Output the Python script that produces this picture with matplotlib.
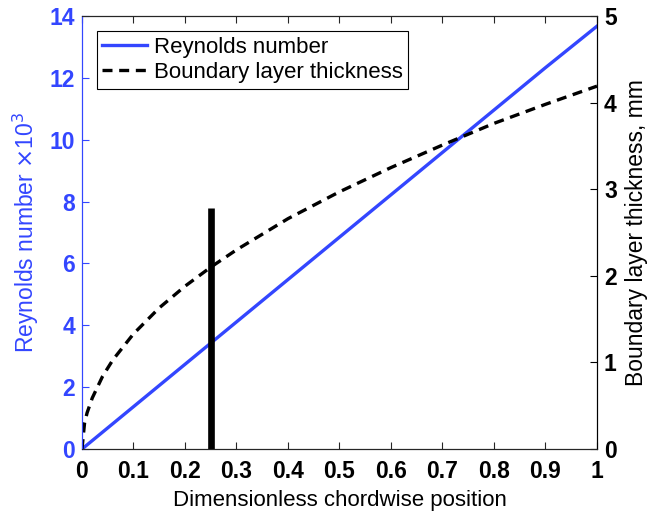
import matplotlib
matplotlib.use('Agg')
from matplotlib import pyplot as plt

# chordwise position and values
x_re = [0, 0.1, 0.2, 0.3, 0.4, 0.5, 0.6, 0.7, 0.8, 0.9, 1.0]
reynolds = [0, 1.37, 2.74, 4.11, 5.48, 6.85, 8.22, 9.59, 10.96, 12.33, 13.67]

x_bl = [0, 0.005, 0.01, 0.02, 0.04, 0.06, 0.1, 0.15, 0.2, 0.25, 0.3,
        0.4, 0.5, 0.6, 0.7, 0.8, 0.9, 1.0]
thickness = [0, 0.30, 0.42, 0.59, 0.84, 1.03, 1.33, 1.63, 1.88, 2.10, 2.30,
             2.66, 2.97, 3.25, 3.51, 3.76, 3.98, 4.19]

marker_x = [0.25, 0.25]
marker_y = [0, 7.8]

x_ticks = [0, 0.1, 0.2, 0.3, 0.4, 0.5, 0.6, 0.7, 0.8, 0.9, 1]
x_labels = ["0", "0.1", "0.2", "0.3", "0.4", "0.5", "0.6", "0.7", "0.8", "0.9", "1"]
left_ticks = [0, 2, 4, 6, 8, 10, 12, 14]
right_ticks = [0, 1, 2, 3, 4, 5]

BLUE = "#3346ff"

plt.rcParams['font.family'] = ['Liberation Sans', 'DejaVu Sans']


def plot_chart():
    fig = plt.figure(figsize=(6.48, 5.15), dpi=100)
    ax = fig.add_axes([0.1265, 0.128, 0.7948, 0.841])
    ax2 = ax.twinx()

    re_line, = ax.plot(x_re, reynolds, color=BLUE, linewidth=2.4, label="Reynolds number")
    ax.plot(marker_x, marker_y, color="black", linewidth=4.8, solid_capstyle="butt")
    bl_line, = ax2.plot(x_bl, thickness, color="black", linewidth=2.4, linestyle=(0, (3.0, 2.0)),
                        label="Boundary layer thickness")

    ax.set_xlim(0, 1)
    ax.set_ylim(0, 14)
    ax2.set_ylim(0, 5)

    ax.set_xticks(x_ticks)
    ax.set_xticklabels(x_labels, fontsize=16.5, fontweight="bold")
    ax.set_yticks(left_ticks)
    ax.set_yticklabels([str(t) for t in left_ticks], fontsize=16.5, fontweight="bold", color=BLUE)
    ax2.set_yticks(right_ticks)
    ax2.set_yticklabels([str(t) for t in right_ticks], fontsize=16.5, fontweight="bold")

    ax.tick_params(axis="x", direction="in", top=True, length=5, width=0.8, pad=8, colors="#262626")
    ax.tick_params(axis="x", labelcolor="black")
    ax.tick_params(axis="y", direction="in", length=5, width=0.8, colors=BLUE, pad=5)
    ax2.tick_params(axis="y", direction="in", length=5, width=0.8, colors="black", pad=5)

    for name in ["top", "bottom"]:
        ax2.spines[name].set_color("#262626")
    ax2.spines["left"].set_color(BLUE)
    ax2.spines["right"].set_color("black")
    ax.spines["left"].set_color(BLUE)

    ax.set_xlabel("Dimensionless chordwise position", fontsize=16, labelpad=5)
    ax.set_ylabel(r"Reynolds number $\times$10$^3$", fontsize=16.5, color=BLUE, labelpad=6)
    ax2.set_ylabel("Boundary layer thickness, mm", fontsize=16.5, color="black", labelpad=6)

    leg = ax2.legend([re_line, bl_line], ["Reynolds number", "Boundary layer thickness"],
                     loc="upper left", bbox_to_anchor=(0.029, 0.965), fontsize=16,
                     fancybox=False, framealpha=1, edgecolor="black",
                     handlelength=2.0, handletextpad=0.3, borderpad=0.25, labelspacing=0.2,
                     borderaxespad=0)
    leg.get_frame().set_linewidth(0.8)

    fig.savefig("out.png", dpi=100)


if __name__ == "__main__":
    plot_chart()
